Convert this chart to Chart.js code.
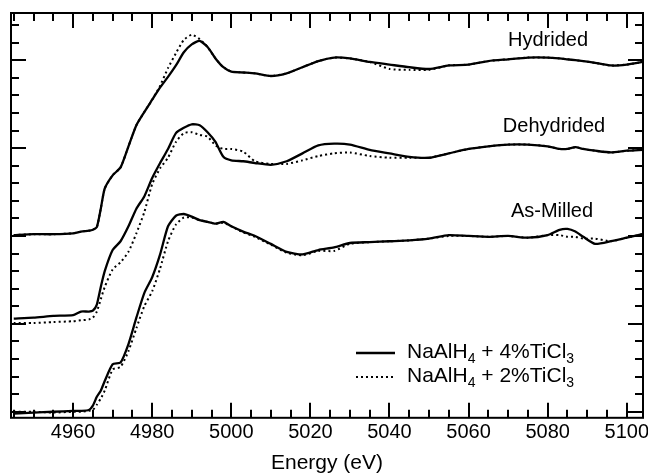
<!DOCTYPE html>
<html>
<head>
<meta charset="utf-8">
<script src="https://cdn.jsdelivr.net/npm/chart.js@4.4.1/dist/chart.umd.min.js"></script>
<style>
    body { margin: 0; background: #fff; }
    #xanes { display: block; }
</style>
</head>
<body>
<canvas id="xanes" width="648" height="476"></canvas>
<script>
// Energy grid (eV) shared by all six spectra
const energies = [4945, 4950, 4955, 4960, 4962, 4964, 4965, 4966, 4967, 4968,
    4970, 4972, 4974, 4976, 4978, 4980, 4982, 4984, 4986, 4988,
    4990, 4992, 4994, 4996, 4998, 5000, 5003, 5006, 5010, 5014,
    5018, 5022, 5026, 5030, 5035, 5040, 5045, 5050, 5055, 5060,
    5065, 5070, 5075, 5080, 5083, 5085, 5087, 5089, 5092, 5096,
    5100, 5104];

// Normalised absorption + vertical offset (arbitrary units)
const hydrided4 = [2.01, 2.02, 2.02, 2.03, 2.05, 2.06, 2.07, 2.10, 2.31, 2.54,
    2.69, 2.78, 3.02, 3.26, 3.41, 3.55, 3.69, 3.81, 3.94, 4.09,
    4.18, 4.22, 4.15, 4.02, 3.92, 3.87, 3.86, 3.85, 3.82, 3.85,
    3.92, 3.99, 4.03, 4.02, 3.98, 3.95, 3.92, 3.90, 3.94, 3.95,
    3.99, 4.01, 4.03, 4.03, 4.02, 4.01, 4.00, 3.99, 3.97, 3.94,
    3.95, 3.98];
const hydrided2 = [2.01, 2.02, 2.02, 2.03, 2.05, 2.06, 2.07, 2.10, 2.31, 2.54,
    2.69, 2.78, 3.02, 3.26, 3.41, 3.55, 3.71, 3.91, 4.08, 4.23,
    4.29, 4.24, 4.15, 4.02, 3.92, 3.87, 3.86, 3.85, 3.82, 3.85,
    3.92, 3.99, 4.03, 4.02, 3.98, 3.90, 3.89, 3.89, 3.94, 3.95,
    3.99, 4.01, 4.03, 4.03, 4.02, 4.01, 4.00, 3.99, 3.97, 3.94,
    3.95, 3.98];
const dehydrided4 = [1.06, 1.07, 1.09, 1.10, 1.14, 1.14, 1.15, 1.22, 1.42, 1.60,
    1.84, 1.94, 2.11, 2.31, 2.45, 2.66, 2.83, 2.99, 3.17, 3.23,
    3.27, 3.26, 3.18, 3.07, 2.90, 2.86, 2.85, 2.83, 2.81, 2.85,
    2.94, 3.03, 3.05, 3.04, 2.98, 2.94, 2.90, 2.89, 2.94, 2.99,
    3.02, 3.04, 3.04, 3.02, 2.99, 2.99, 3.01, 2.99, 2.97, 2.95,
    2.97, 2.98];
const dehydrided2 = [1.01, 1.01, 1.02, 1.03, 1.04, 1.05, 1.07, 1.14, 1.28, 1.42,
    1.62, 1.70, 1.82, 2.03, 2.27, 2.59, 2.77, 2.89, 3.07, 3.17,
    3.18, 3.15, 3.13, 3.03, 2.99, 2.99, 2.96, 2.85, 2.82, 2.82,
    2.86, 2.91, 2.94, 2.95, 2.91, 2.89, 2.89, 2.89, 2.94, 2.99,
    3.02, 3.04, 3.04, 3.02, 2.99, 2.99, 3.01, 2.99, 2.97, 2.95,
    2.97, 2.98];
const asMilled4 = [-0.02, -0.01, 0.00, 0.01, 0.01, 0.02, 0.07, 0.17, 0.24, 0.35,
    0.54, 0.56, 0.77, 1.07, 1.35, 1.53, 1.79, 2.11, 2.23, 2.25,
    2.22, 2.18, 2.16, 2.14, 2.16, 2.11, 2.05, 2.00, 1.91, 1.82,
    1.79, 1.84, 1.87, 1.92, 1.93, 1.94, 1.95, 1.97, 2.01, 2.00,
    1.99, 2.00, 1.98, 2.01, 2.07, 2.08, 2.05, 1.99, 1.91, 1.94,
    1.98, 2.02];
const asMilled2 = [0.00, 0.00, -0.01, 0.00, 0.00, 0.01, 0.02, 0.08, 0.15, 0.24,
    0.48, 0.51, 0.69, 0.95, 1.20, 1.37, 1.63, 1.94, 2.13, 2.21,
    2.21, 2.18, 2.16, 2.14, 2.15, 2.11, 2.04, 1.99, 1.90, 1.81,
    1.78, 1.83, 1.83, 1.91, 1.93, 1.94, 1.95, 1.97, 2.00, 2.00,
    1.99, 2.00, 1.98, 2.01, 2.01, 1.99, 1.99, 1.97, 1.97, 1.94,
    1.98, 2.02];

const FONT = '"Liberation Sans", Arial, Helvetica, sans-serif';

function toPoints(values) {
    return energies.map((e, i) => ({ x: e, y: values[i] }));
}

function spectrum(values, dotted) {
    return {
        data: toPoints(values),
        borderColor: '#000',
        borderWidth: dotted ? 2 : 2.3,
        borderDash: dotted ? [2, 3] : [],
        pointRadius: 0,
        tension: 0.2,
        fill: false
    };
}

// draws text with subscripts, parts = [[text, isSub], ...]
function drawFormula(ctx, x, y, parts) {
    parts.forEach(p => {
        ctx.font = (p[1] ? '14px ' : '21px ') + FONT;
        ctx.fillText(p[0], x, p[1] ? y + 5 : y);
        x += ctx.measureText(p[0]).width;
    });
}

const decorations = {
    id: 'decorations',
    afterDraw(chart) {
        const { ctx, chartArea: a, scales: { x, y } } = chart;
        ctx.save();
        ctx.strokeStyle = '#000';
        ctx.fillStyle = '#000';
        ctx.lineWidth = 2;
        ctx.strokeRect(a.left, a.top, a.right - a.left, a.bottom - a.top);

        // inward ticks, top and bottom
        ctx.beginPath();
        x.ticks.forEach(t => {
            const px = Math.round(x.getPixelForValue(t.value));
            const len = t.value % 20 === 0 ? 15 : 8;
            ctx.moveTo(px, a.bottom);
            ctx.lineTo(px, a.bottom - len);
            ctx.moveTo(px, a.top);
            ctx.lineTo(px, a.top + len);
        });
        // inward ticks, left and right
        y.ticks.forEach(t => {
            const py = Math.round(y.getPixelForValue(t.value));
            const major = Math.abs(t.value - Math.round(t.value)) < 1e-6;
            const len = major ? 15 : 8;
            ctx.moveTo(a.left, py);
            ctx.lineTo(a.left + len, py);
            ctx.moveTo(a.right, py);
            ctx.lineTo(a.right - len, py);
        });
        ctx.stroke();

        // curve names
        ctx.textAlign = 'center';
        ctx.textBaseline = 'middle';
        ctx.font = '20px ' + FONT;
        ctx.fillText('Hydrided', 548, 40);
        ctx.fillText('Dehydrided', 554, 126);
        ctx.fillText('As-Milled', 552, 211);

        // legend
        ctx.lineWidth = 2.3;
        ctx.beginPath();
        ctx.moveTo(356, 353);
        ctx.lineTo(395, 353);
        ctx.stroke();
        ctx.lineWidth = 2;
        ctx.setLineDash([2, 3]);
        ctx.beginPath();
        ctx.moveTo(356, 377);
        ctx.lineTo(395, 377);
        ctx.stroke();
        ctx.setLineDash([]);

        ctx.textAlign = 'left';
        ctx.textBaseline = 'alphabetic';
        drawFormula(ctx, 407, 358, [['NaAlH', false], ['4', true], [' + 4%TiCl', false], ['3', true]]);
        drawFormula(ctx, 407, 382, [['NaAlH', false], ['4', true], [' + 2%TiCl', false], ['3', true]]);
        ctx.restore();
    }
};

new Chart(document.getElementById('xanes'), {
    type: 'line',
    data: {
        datasets: [
            spectrum(hydrided4, false),
            spectrum(hydrided2, true),
            spectrum(dehydrided4, false),
            spectrum(dehydrided2, true),
            spectrum(asMilled4, false),
            spectrum(asMilled2, true)
        ]
    },
    options: {
        responsive: false,
        animation: false,
        layout: { padding: { left: 11, right: 5, top: 13, bottom: 0 } },
        plugins: {
            legend: { display: false },
            tooltip: { enabled: false }
        },
        scales: {
            x: {
                type: 'linear',
                min: 4944.3,
                max: 5104.1,
                afterFit: scale => {
                    scale.paddingLeft = 0;
                    scale.paddingRight = 0;
                },
                grid: { display: false, drawTicks: false },
                border: { display: false },
                ticks: {
                    stepSize: 5,
                    includeBounds: false,
                    autoSkip: false,
                    maxRotation: 0,
                    padding: 3,
                    color: '#000',
                    font: { family: FONT, size: 20 },
                    callback: v => (v % 20 === 0 ? String(v) : '')
                },
                title: {
                    display: true,
                    text: 'Energy (eV)',
                    color: '#000',
                    font: { family: FONT, size: 21 },
                    padding: { top: 3, bottom: 0 }
                }
            },
            y: {
                min: -0.069,
                max: 4.537,
                grid: { display: false, drawTicks: false },
                border: { display: false },
                ticks: { display: false, stepSize: 0.2, includeBounds: false }
            }
        }
    },
    plugins: [decorations]
});
</script>
</body>
</html>
